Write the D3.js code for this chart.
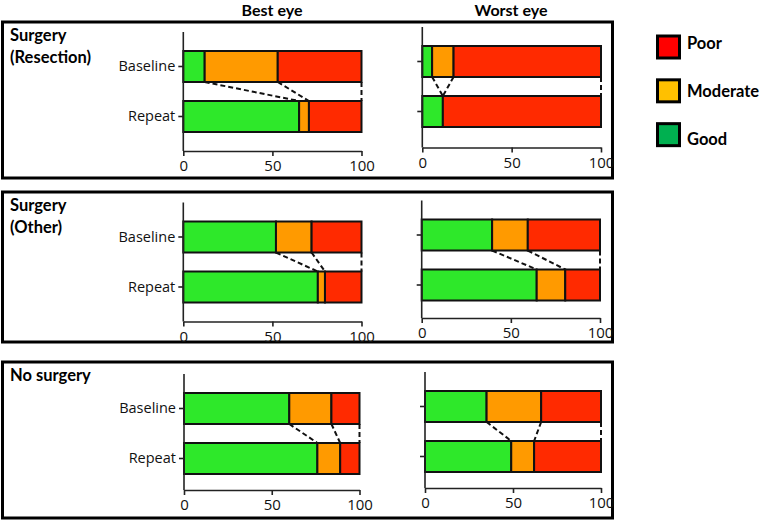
<!DOCTYPE html>
<html><head><meta charset="utf-8">
<script src="https://cdn.jsdelivr.net/npm/d3@7"></script>
<style>body{margin:0;background:#fff}svg{display:block}</style>
</head><body><svg id="c" width="762" height="526"></svg>
<script>
// ---- data ----
const groups = ["Surgery|(Resection)", "Surgery|(Other)", "No surgery"];
const eyes = ["Best eye", "Worst eye"];
const timepoints = ["Baseline", "Repeat"];
const categories = ["Good", "Moderate", "Poor"];
const legendOrder = ["Poor", "Moderate", "Good"];
const xTicks = [0, 50, 100];
// values per group: [Baseline, Repeat] (percent)
const goodBest     = [[12, 65],   [52, 75.5], [60, 76]];
const moderateBest = [[41, 5.5],  [20, 4],    [24, 13]];
const poorBest     = [[47, 29.5], [28, 20.5], [16, 11]];
const goodWorst     = [[5.5, 11.5],  [39.5, 64.5], [35, 49]];
const moderateWorst = [[12, 0],      [20, 16],     [31, 13]];
const poorWorst     = [[82.5, 88.5], [40.5, 19.5], [34, 38]];

// ---- styles / layout ----
const barColors = {Good: "#2ee82a", Moderate: "#ff9a00", Poor: "#ff2a00"};
const legendColors = {Poor: "#ff0000", Moderate: "#ffc000", Good: "#00b050"};
const boxes = [[22, 178], [192, 342], [362, 518]];
const layout = [
  [{x0:183.3, x1:361.5, top:51, axisY:151}, {x0:422.3, x1:601, top:46, axisY:147.5}],
  [{x0:183.3, x1:361.5, top:221.5, axisY:321.5}, {x0:421.7, x1:600, top:219.5, axisY:318}],
  [{x0:184, x1:359.5, top:393, axisY:490}, {x0:425, x1:601, top:391, axisY:488}]
];
const regFont = "'Open Sans', sans-serif";
const boldFont = "Lato, 'Open Sans', sans-serif";
const svg = d3.select("#c");

// column titles
svg.selectAll("text.title").data(eyes).join("text")
  .attr("x", (d,i) => i === 0 ? 272 : 511).attr("y", 16)
  .attr("text-anchor", "middle").style("font-family", boldFont).style("font-weight", "bold").style("font-size", "16px")
  .text(d => d);

groups.forEach((g, gi) => {
  svg.append("rect").attr("x", 2.5).attr("y", boxes[gi][0]).attr("width", 610)
    .attr("height", boxes[gi][1] - boxes[gi][0]).attr("fill", "none")
    .attr("stroke", "#000").attr("stroke-width", 3);
  const lines = g.split("|");
  svg.append("g").selectAll("text").data(lines).join("text")
    .attr("x", 10).attr("y", (d,i) => boxes[gi][0] + 19 + i*21.5)
    .style("font-family", boldFont).style("font-weight", "bold").style("font-size", "16.5px").text(d => d);

  eyes.forEach((e, ei) => {
    const L = layout[gi][ei];
    const G = ei === 0 ? [goodBest, moderateBest, poorBest] : [goodWorst, moderateWorst, poorWorst];
    const x = d3.scaleLinear().domain([0, 100]).range([L.x0, L.x1]);
    const y = d3.scaleBand().domain(timepoints).range([L.top, L.top + 81]).paddingInner(0.38).paddingOuter(0);
    const gg = svg.append("g");
    const rows = timepoints.map((t, ti) => {
      const r = {time: t};
      categories.forEach((c, ci) => r[c] = G[ci][gi][ti]);
      return r;
    });
    const stack = d3.stack().keys(categories)(rows);
    const ends = categories.map((c, ci) => stack[ci].map(s => s[1]));
    gg.append("g").selectAll("line").data(ends).join("line")
      .attr("x1", d => x(d[0])).attr("x2", d => x(d[1]))
      .attr("y1", y("Baseline") + y.bandwidth()).attr("y2", y("Repeat"))
      .attr("stroke", "#111").attr("stroke-width", 2).attr("stroke-dasharray", "5,3");
    gg.append("g").selectAll("g").data(stack).join("g")
      .attr("fill", d => barColors[d.key])
      .selectAll("rect").data(d => d.filter(s => s[1] - s[0] > 0)).join("rect")
      .attr("x", d => x(d[0])).attr("width", d => x(d[1]) - x(d[0]))
      .attr("y", d => y(d.data.time)).attr("height", y.bandwidth())
      .attr("stroke", "#111").attr("stroke-width", 2);
    const xa = gg.append("g").attr("transform", `translate(0,${L.axisY})`)
      .call(d3.axisBottom(x).tickValues(xTicks).tickSize(5).tickSizeOuter(0));
    xa.select(".domain").attr("stroke", "#222").attr("stroke-width", 1.6);
    xa.selectAll(".tick line").attr("stroke", "#222").attr("stroke-width", 1.6);
    xa.selectAll(".tick text").style("font-size", "15px").style("font-family", regFont).attr("fill", "#111").attr("dy", "0.8em");
    const ya = gg.append("g").attr("transform", `translate(${L.x0},0)`)
      .call(d3.axisLeft(y).tickSize(5).tickSizeOuter(0).tickFormat(d => ei === 0 ? d : ""));
    ya.select(".domain").attr("d", `M0,${L.top - 19}V${L.axisY}`).attr("stroke", "#222").attr("stroke-width", 1.6);
    ya.selectAll(".tick line").attr("stroke", "#222").attr("stroke-width", 1.6);
    ya.selectAll(".tick text").style("font-size", "14.5px").style("font-family", regFont).attr("fill", "#111");
  });
});

// legend
const ly = d3.scaleBand().domain(legendOrder).range([36, 139]).paddingInner(0.65).paddingOuter(0);
const lg = svg.append("g").selectAll("g").data(legendOrder).join("g");
lg.append("rect").attr("x", 657.5).attr("y", d => ly(d)).attr("width", 22).attr("height", 22)
  .attr("fill", d => legendColors[d]).attr("stroke", "#000").attr("stroke-width", 3);
lg.append("text").attr("x", 687).attr("y", (d,i) => ly(d) + 11 + [2, 6, 10][i])
  .style("font-family", boldFont).style("font-weight", "bold").style("font-size", "16.5px").text(d => d);
</script></body></html>
